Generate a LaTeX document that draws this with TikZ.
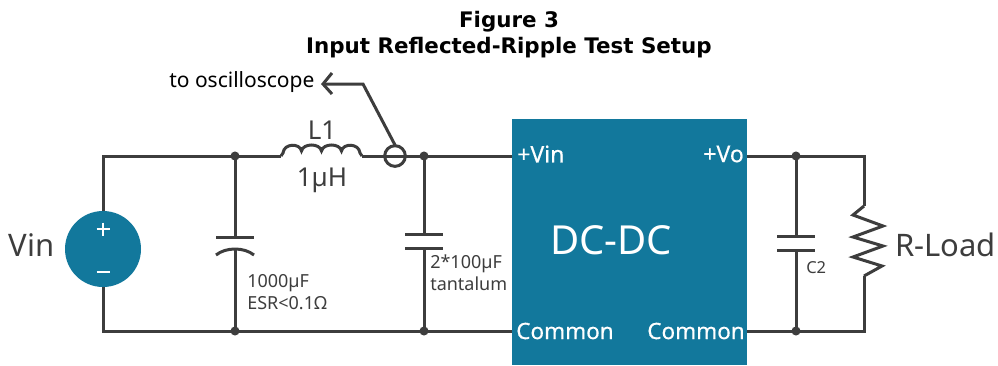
\documentclass[tikz,border=0pt]{standalone}
\usepackage{fontspec}
\setmainfont{Noto Sans}
\newfontfamily\bodyfont{Noto Sans}
\newfontfamily\semifont[FakeBold=0.4]{Noto Sans}
\newfontfamily\titlefont{DejaVu Sans}
\definecolor{teal1}{HTML}{12789C}
\definecolor{wire}{HTML}{3D3D3D}
\newdimen\pxsz
\newdimen\pxskp
\newcommand{\pxfont}[1]{\pxsz=#1pt \pxsz=.75\pxsz \pxskp=1.2\pxsz \bodyfont\fontsize{\the\pxsz}{\the\pxskp}\selectfont}
\newcommand{\pxsemi}[1]{\pxsz=#1pt \pxsz=.75\pxsz \pxskp=1.2\pxsz \semifont\fontsize{\the\pxsz}{\the\pxskp}\selectfont}
\tikzset{
  wireline/.style={draw=wire,line width=2.25pt,line join=miter},
  junction/.style={circle,fill=wire,inner sep=0pt,minimum size=6.8pt},
  lab/.style={inner sep=0pt,text=#1},
  lab/.default=wire,
}
\begin{document}
\begin{tikzpicture}[x=0.75pt,y=-0.75pt]
\useasboundingbox (0,0) rectangle (998,365);
% title
\node[lab=black,align=center,font=\titlefont\bfseries\fontsize{16.05pt}{19.5pt}\selectfont] (title) at (509,34.5) {Figure 3\\Input Reflected-Ripple Test Setup};
% block
\node[fill=teal1,inner sep=0pt,minimum width=176.25pt,minimum height=184.5pt] (dc) at (629.5,242) {};
\coordinate (vinp) at (512,156);
\coordinate (comL) at (512,331);
\coordinate (vo) at (747,156);
\coordinate (comR) at (747,331);
% source
\node[circle,fill=teal1,inner sep=0pt,minimum size=57pt] (src) at (103,249) {};
\draw[white,line width=1.6pt] (96.5,229) -- (109.5,229) (103,222.5) -- (103,235.5) (96.5,272) -- (109.5,272);
% junctions
\node[junction] (j1) at (235,156) {};
\node[junction] (j2) at (424,156) {};
\node[junction] (j3) at (235,331) {};
\node[junction] (j4) at (424,331) {};
\node[junction] (j5) at (796,156) {};
\node[junction] (j6) at (796,331) {};
\coordinate (lin) at (281,156);
\coordinate (lout) at (362,156);
\node[circle,draw=wire,line width=2.25pt,inner sep=0pt,minimum size=15.5pt] (probe) at (395,156) {};
\coordinate (knee) at (363,84);
\coordinate (tip) at (323,84);
% wires
\draw[wireline] (src.north) |- (j1.center);
\draw[wireline] (j1.center) -- (lin);
\draw[wireline] (lout) -- (j2.center) -- (vinp);
\draw[wireline] (src.south) |- (j3.center);
\draw[wireline] (j3.center) -- (j4.center) -- (comL);
\draw[wireline] (vo) -- (j5.center) -- (864,156) -- (864,206);
\draw[wireline] (comR) -- (j6.center) -- (864,331) -- (864,276);
% inductor
\draw[wireline] (lin) -- (283,153) .. controls (284,143) and (300,143) .. (301.5,151)
  .. controls (303,143) and (320,143) .. (321.5,151)
  .. controls (323,143) and (340,143) .. (341.5,151)
  .. controls (343,143) and (359,143) .. (360,153) -- (lout);
% probe
\draw[wireline] (395,145) -- (knee) -- (tip);
\draw[wireline] (332,73) -- (tip) -- (332,94);
% caps
\draw[wireline] (j1.center) -- (235,236);
\draw[wireline] (216,237) -- (254,237);
\draw[wireline] (216,255) .. controls (226,247) and (244,247) .. (254,255);
\draw[wireline] (235,249) -- (j3.center);
\draw[wireline] (j2.center) -- (424,234);
\draw[wireline] (405,234) -- (443,234) (405,248) -- (443,248);
\draw[wireline] (424,248) -- (j4.center);
\draw[wireline] (j5.center) -- (796,236);
\draw[wireline] (777,236) -- (815,236) (777,250) -- (815,250);
\draw[wireline] (796,250) -- (j6.center);
% resistor
\draw[wireline] (864,206) -- (853,215) -- (883,226) -- (853,237) -- (883,246) -- (853,257) -- (882,266) -- (864,276);
% labels
\node[lab,font=\pxfont{31}] (vinl) at (31.5,245) {Vin};
\node[lab,anchor=west,font=\pxfont{31}] (rl) at (895,245) {R-Load};
\node[lab=black,anchor=west,font=\pxfont{21}] (osc) at (169,82) {to oscilloscope};
\node[lab,font=\pxfont{26}] (l1) at (322,130) {L1};
\node[lab,font=\pxfont{26}] (l1v) at (322,180) {1µH};
\node[lab,anchor=west,align=left,font=\pxfont{18}] (c1l) at (247,292) {1000µF\\ESR<0.1Ω};
\node[lab,anchor=west,align=left,font=\pxfont{18}] (c2l) at (430,273) {2*100µF\\tantalum};
\node[lab,anchor=west,font=\pxfont{16.5}] (c3l) at (806,268) {C2};
\node[lab=white,anchor=west,font=\pxsemi{23}] (a) at (517,154) {+Vin};
\node[lab=white,anchor=east,font=\pxsemi{23}] (b) at (744,154) {+Vo};
\node[lab=white,anchor=west,font=\pxsemi{22.5}] (c) at (516,331) {Common};
\node[lab=white,anchor=east,font=\pxsemi{22.5}] (d) at (745,331) {Common};
\node[lab=white,font=\pxfont{40}\bfseries] (e) at (611,240) {DC-DC};
\end{tikzpicture}
\end{document}
